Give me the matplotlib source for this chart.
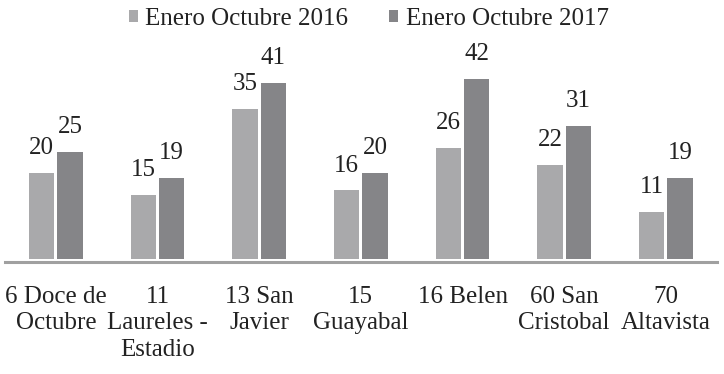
import matplotlib.pyplot as plt
import numpy as np

plt.rcParams['font.family'] = 'serif'
plt.rcParams['font.serif'] = ['Liberation Serif', 'DejaVu Serif']

categories = ["6 Doce de\nOctubre", "11\nLaureles -\nEstadio", "13 San\nJavier", "15\nGuayabal",
              "16 Belen", "60 San\nCristobal", "70\nAltavista"]
vals_2016 = [20, 15, 35, 16, 26, 22, 11]
vals_2017 = [25, 19, 41, 20, 42, 31, 19]
labels = ["Enero Octubre 2016", "Enero Octubre 2017"]
colors = ["#a9a9ab", "#858588"]

fig = plt.figure(figsize=(7.24, 3.74), dpi=100)
ax = fig.add_axes([0.0069, 0.3008, 0.983, 0.6992])

x = np.arange(len(categories))
w = 0.25
b1 = ax.bar(x - w / 2 - 0.015, vals_2016, w, color=colors[0], label=labels[0])
b2 = ax.bar(x + w / 2 + 0.015, vals_2017, w, color=colors[1], label=labels[1])
for bars in (b1, b2):
    ax.bar_label(bars, padding=10, fontsize=18, color="#222222")

ax.set_xlim(-0.5, len(categories) - 0.5)
ax.set_ylim(-0.55, 60.4)
ax.set_yticks([])
ax.set_xticks(x)
ax.set_xticklabels(categories, fontsize=18, linespacing=1.26, color="#222222")
ax.tick_params(axis='x', length=0, pad=17.5)
for s in ["top", "right", "left"]:
    ax.spines[s].set_visible(False)
ax.spines["bottom"].set_color("#a0a0a0")
ax.spines["bottom"].set_linewidth(2.2)

fig.legend(loc="upper center", bbox_to_anchor=(0.509, 1.038), ncol=2, frameon=False,
           fontsize=18, handlelength=0.36, handleheight=0.36, handletextpad=0.3,
           columnspacing=1.64, labelcolor="#222222")

fig.savefig("out.png", dpi=100)
